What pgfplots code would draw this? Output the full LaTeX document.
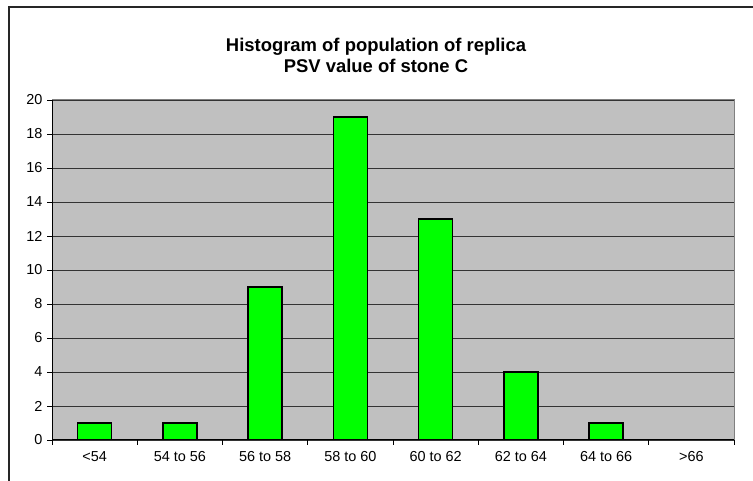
\documentclass[border=0pt]{standalone}
\usepackage{pgfplots}
\pgfplotsset{compat=1.18}
\usepackage{fontspec}
\setmainfont{Liberation Sans}
\definecolor{bargreen}{RGB}{0,255,0}
\definecolor{plotgrey}{RGB}{192,192,192}
\begin{document}
\begin{tikzpicture}[x=1bp,y=1bp]
\useasboundingbox (0,0) rectangle (753,481);
\draw[line width=1.2bp,black!85] (9,-2) -- (9,474) -- (755,474);
\node[font=\bfseries\fontsize{18.5}{21}\selectfont,align=center] at (376,426) {Histogram of population of replica\\PSV value of stone C};
\begin{axis}[
  at={(52bp,41bp)}, anchor=south west,
  scale only axis, width=682bp, height=340bp,
  xmin=-0.5, xmax=7.5, ymin=0, ymax=20,
  ytick={0,2,...,20},
  xtick={-0.5,0.5,...,7.5},
  x tick label as interval=true,
  xticklabels={{<54},{54 to 56},{56 to 58},{58 to 60},{60 to 62},{62 to 64},{64 to 66},{>66}},
  tick align=outside, tick pos=left,
  major tick length=5bp,
  tick style={black, line width=0.8bp},
  ymajorgrids, grid style={black!80, line width=0.8bp},
  axis background/.style={fill=plotgrey},
  axis line style={draw=black!50, line width=1bp},
  ticklabel style={font=\fontsize{14.5}{16}\selectfont},
  /pgf/number format/assume math mode=true,
  yticklabel style={xshift=-1bp},
  xticklabel style={yshift=-3bp},
  ybar, bar width=34bp,
]
\addplot[fill=bargreen, draw=black, line width=1.5bp] coordinates {(0,1) (1,1) (2,9) (3,19) (4,13) (5,4) (6,1) (7,0)};
\draw[black, line width=1bp] (axis cs:-0.5,20) -- (axis cs:-0.5,0) -- (axis cs:7.5,0);
\end{axis}
\end{tikzpicture}
\end{document}
